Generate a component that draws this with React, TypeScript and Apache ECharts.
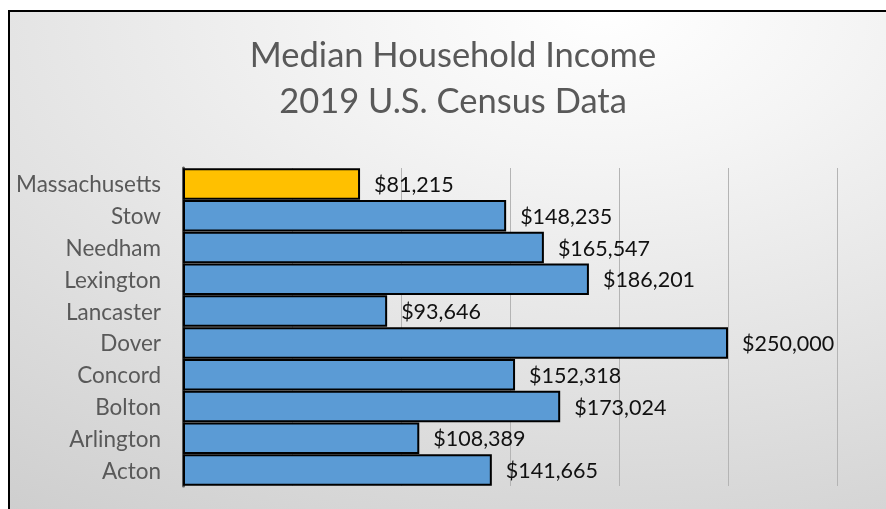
import React, { useEffect, useRef } from "react";
import * as echarts from "echarts";

const categories = ["Acton", "Arlington", "Bolton", "Concord", "Dover", "Lancaster", "Lexington", "Needham", "Stow", "Massachusetts"];
const incomes = [141665, 108389, 173024, 152318, 250000, 93646, 186201, 165547, 148235, 81215];
const highlight = "Massachusetts";
const axisMax = 300000;
const axisStep = 50000;
const titleLines = ["Median Household Income", "2019 U.S. Census Data"];

const FONT = "Lato, 'Open Sans', sans-serif";

export default function App() {
  const ref = useRef<HTMLDivElement>(null);
  useEffect(() => {
    if (!ref.current) return;
    const chart = echarts.init(ref.current, undefined, { renderer: "svg" });
    const fmt = (v: number) => "$" + v.toLocaleString("en-US");
    chart.setOption({
      animation: false,
      graphic: [
        {
          type: "rect",
          z: -10,
          silent: true,
          shape: { x: 9, y: 11, width: 900, height: 520 },
          style: {
            fill: new echarts.graphic.RadialGradient(0.66, 0.0, 1.45, [
              { offset: 0, color: "#ffffff" },
              { offset: 0.2, color: "#f4f4f4" },
              { offset: 1, color: "#c2c2c2" },
            ]),
            stroke: "#000000",
            lineWidth: 2,
          },
        },
      ],
      title: {
        text: titleLines.join("\n"),
        left: 448,
        top: 25,
        textAlign: "center",
        textStyle: {
          fontFamily: FONT,
          fontWeight: 400,
          fontSize: 34.5,
          lineHeight: 46,
          color: "#595959",
        },
      },
      grid: { left: 183, right: 49, top: 168, bottom: 23, containLabel: false },
      xAxis: {
        type: "value",
        min: 0,
        max: axisMax,
        interval: axisStep,
        axisLabel: { show: false },
        axisLine: { show: false },
        axisTick: { show: false },
        splitLine: { show: true, lineStyle: { color: "#b4b4b4", width: 1 } },
      },
      yAxis: {
        type: "category",
        data: categories,
        axisTick: { show: false },
        axisLine: { show: true, lineStyle: { color: "#595959", width: 3 } },
        axisLabel: {
          margin: 22,
          fontFamily: FONT,
          fontSize: 22.5,
          color: "#595959",
        },
      },
      series: [
        {
          type: "bar",
          data: incomes.map((v, i) => ({
            value: v,
            itemStyle: { color: categories[i] === highlight ? "#FFC000" : "#5B9BD5" },
          })),
          barCategoryGap: "1%",
          itemStyle: { borderColor: "#000000", borderWidth: 2 },
          label: {
            show: true,
            position: "right",
            distance: 14,
            formatter: (p: any) => fmt(p.value),
            fontFamily: FONT,
            fontSize: 21.5,
            color: "#111111",
          },
        },
      ],
    });
    return () => chart.dispose();
  }, []);
  return <div ref={ref} style={{ position: "fixed", left: 0, top: 0, width: 886, height: 509 }} />;
}
